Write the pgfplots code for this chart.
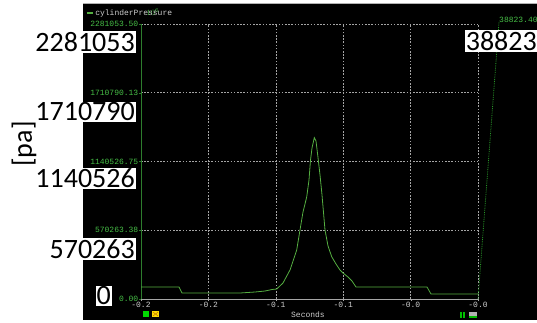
\documentclass[border=0pt]{standalone}
\usepackage{pgfplots}
\pgfplotsset{compat=1.18}
\usepackage{fontspec}
\setmainfont{Carlito}
\setmonofont{Liberation Mono}
\definecolor{curve}{RGB}{85,175,65}
\definecolor{axgreen}{RGB}{45,125,45}
\definecolor{tickgreen}{RGB}{70,190,70}
\definecolor{gridgray}{RGB}{165,165,165}
\definecolor{lgdgray}{RGB}{205,205,205}
\definecolor{dotgreen}{RGB}{40,150,40}
\begin{document}
\begin{tikzpicture}[x=1pt,y=1pt]
\useasboundingbox (0,0) rectangle (537,322);
\fill[white] (0,0) rectangle (537,322);
\fill[black] (83,2) rectangle (537,318);
\draw[gray!60, line width=0.8pt] (83,318.4) -- (537,318.4);
\begin{axis}[
  at={(141pt,23pt)}, anchor=south west,
  scale only axis, width=337pt, height=275pt,
  xmin=-0.25, xmax=0, ymin=0, ymax=2281053.5,
  clip=false,
  axis lines*=left,
  x axis line style={gray!70, line width=0.8pt},
  y axis line style={axgreen, line width=0.9pt},
  xtick={-0.25,-0.2,-0.15,-0.1,-0.05,0},
  xticklabels={-0.2,-0.2,-0.1,-0.1,-0.0,-0.0},
  ytick={0,570263.38,1140526.75,1710790.13,2281053.5},
  yticklabels={0.00,570263.38,1140526.75,1710790.13,2281053.50},
  tick align=outside, major tick length=2pt,
  x tick style={gray!70},
  y tick style={axgreen},
  /pgf/number format/assume math mode=true,
  ticklabel style={font=\fontsize{8}{9}\ttfamily},
  xticklabel style={text=lgdgray, anchor=north, inner sep=1pt},
  yticklabel style={text=tickgreen, anchor=east, inner sep=0.5pt},
  grid=major,
  grid style={gridgray, dash pattern=on 1.6pt off 1.6pt, line width=0.6pt},
  xlabel={Seconds},
  xlabel style={at={(axis description cs:0.4955,0)}, anchor=center, yshift=-16pt, font=\fontsize{8}{9}\ttfamily, text=lgdgray},
  legend style={at={(axis description cs:-0.1632,1.04)}, anchor=west, draw=none, fill=none,
    font=\fontsize{8}{9}\ttfamily, text=lgdgray, inner sep=0pt, legend cell align=left},
  legend image code/.code={\draw[#1, line width=1.1pt] (0pt,0pt) -- (6pt,0pt);},
]
\addplot[curve, line width=0.8pt] coordinates {
(-0.25,99537) (-0.22181,99537) (-0.219585,49768) (-0.176558,49768)
(-0.16543,58063) (-0.158012,66358) (-0.152819,78800) (-0.149332,82947)
(-0.144659,132716) (-0.139466,240547) (-0.134496,406442) (-0.132047,572337)
(-0.129822,721642) (-0.127077,846063) (-0.125371,987074) (-0.124258,1152969)
(-0.123145,1252506) (-0.121439,1337942) (-0.120178,1310569) (-0.118472,1152969)
(-0.117211,1028548) (-0.115727,862653) (-0.113501,572337) (-0.111276,439621)
(-0.108531,350868) (-0.105341,290316) (-0.102374,240547) (-0.100148,215663)
(-0.096439,182484) (-0.093472,149305) (-0.090504,99537) (-0.037834,99537)
(-0.034866,41474) (0,41474)
};
\addlegendentry{cylinderPressure}
\addplot[dotgreen, densely dotted, line width=0.8pt, forget plot] coordinates {(0,0) (0.01558,2297632)};
\end{axis}
% right secondary label
\node[anchor=west, text=tickgreen, font=\fontsize{8}{9}\ttfamily, inner sep=0pt] at (499,302) {38823.40};
% bottom decorations
\fill[green!85!black] (143,5) rectangle (149,11);
\fill[yellow!80!orange] (152,5) rectangle (159,11);
\draw[orange!70!black, line width=0.4pt] (153,6) -- (158,10) (153,10) -- (158,6);
\fill[green!75!black] (460,4) rectangle (461.5,10);
\fill[green!75!black] (463,4) rectangle (464.5,10);
\fill[gray!60] (469,4) rectangle (477,10);
\fill[green!75!black] (469,4) rectangle (477,6);
\fill[white] (443,0) rectangle (478,2);
% overlay labels
\begin{scope}[every node/.style={fill=white, inner sep=1pt, font=\fontsize{28}{30}\selectfont}]
\node[anchor=east] at (136,280) {2281053};
\node[anchor=east] at (136,210) {1710790};
\node[anchor=east] at (136,143.5) {1140526};
\node[anchor=east] at (136,73) {570263};
\node[anchor=east] at (112,26) {0};
\node[anchor=east] at (538,281) {38823};
\node[rotate=90, fill=none] at (24,178) {[pa]};
\end{scope}
\end{tikzpicture}
\end{document}
